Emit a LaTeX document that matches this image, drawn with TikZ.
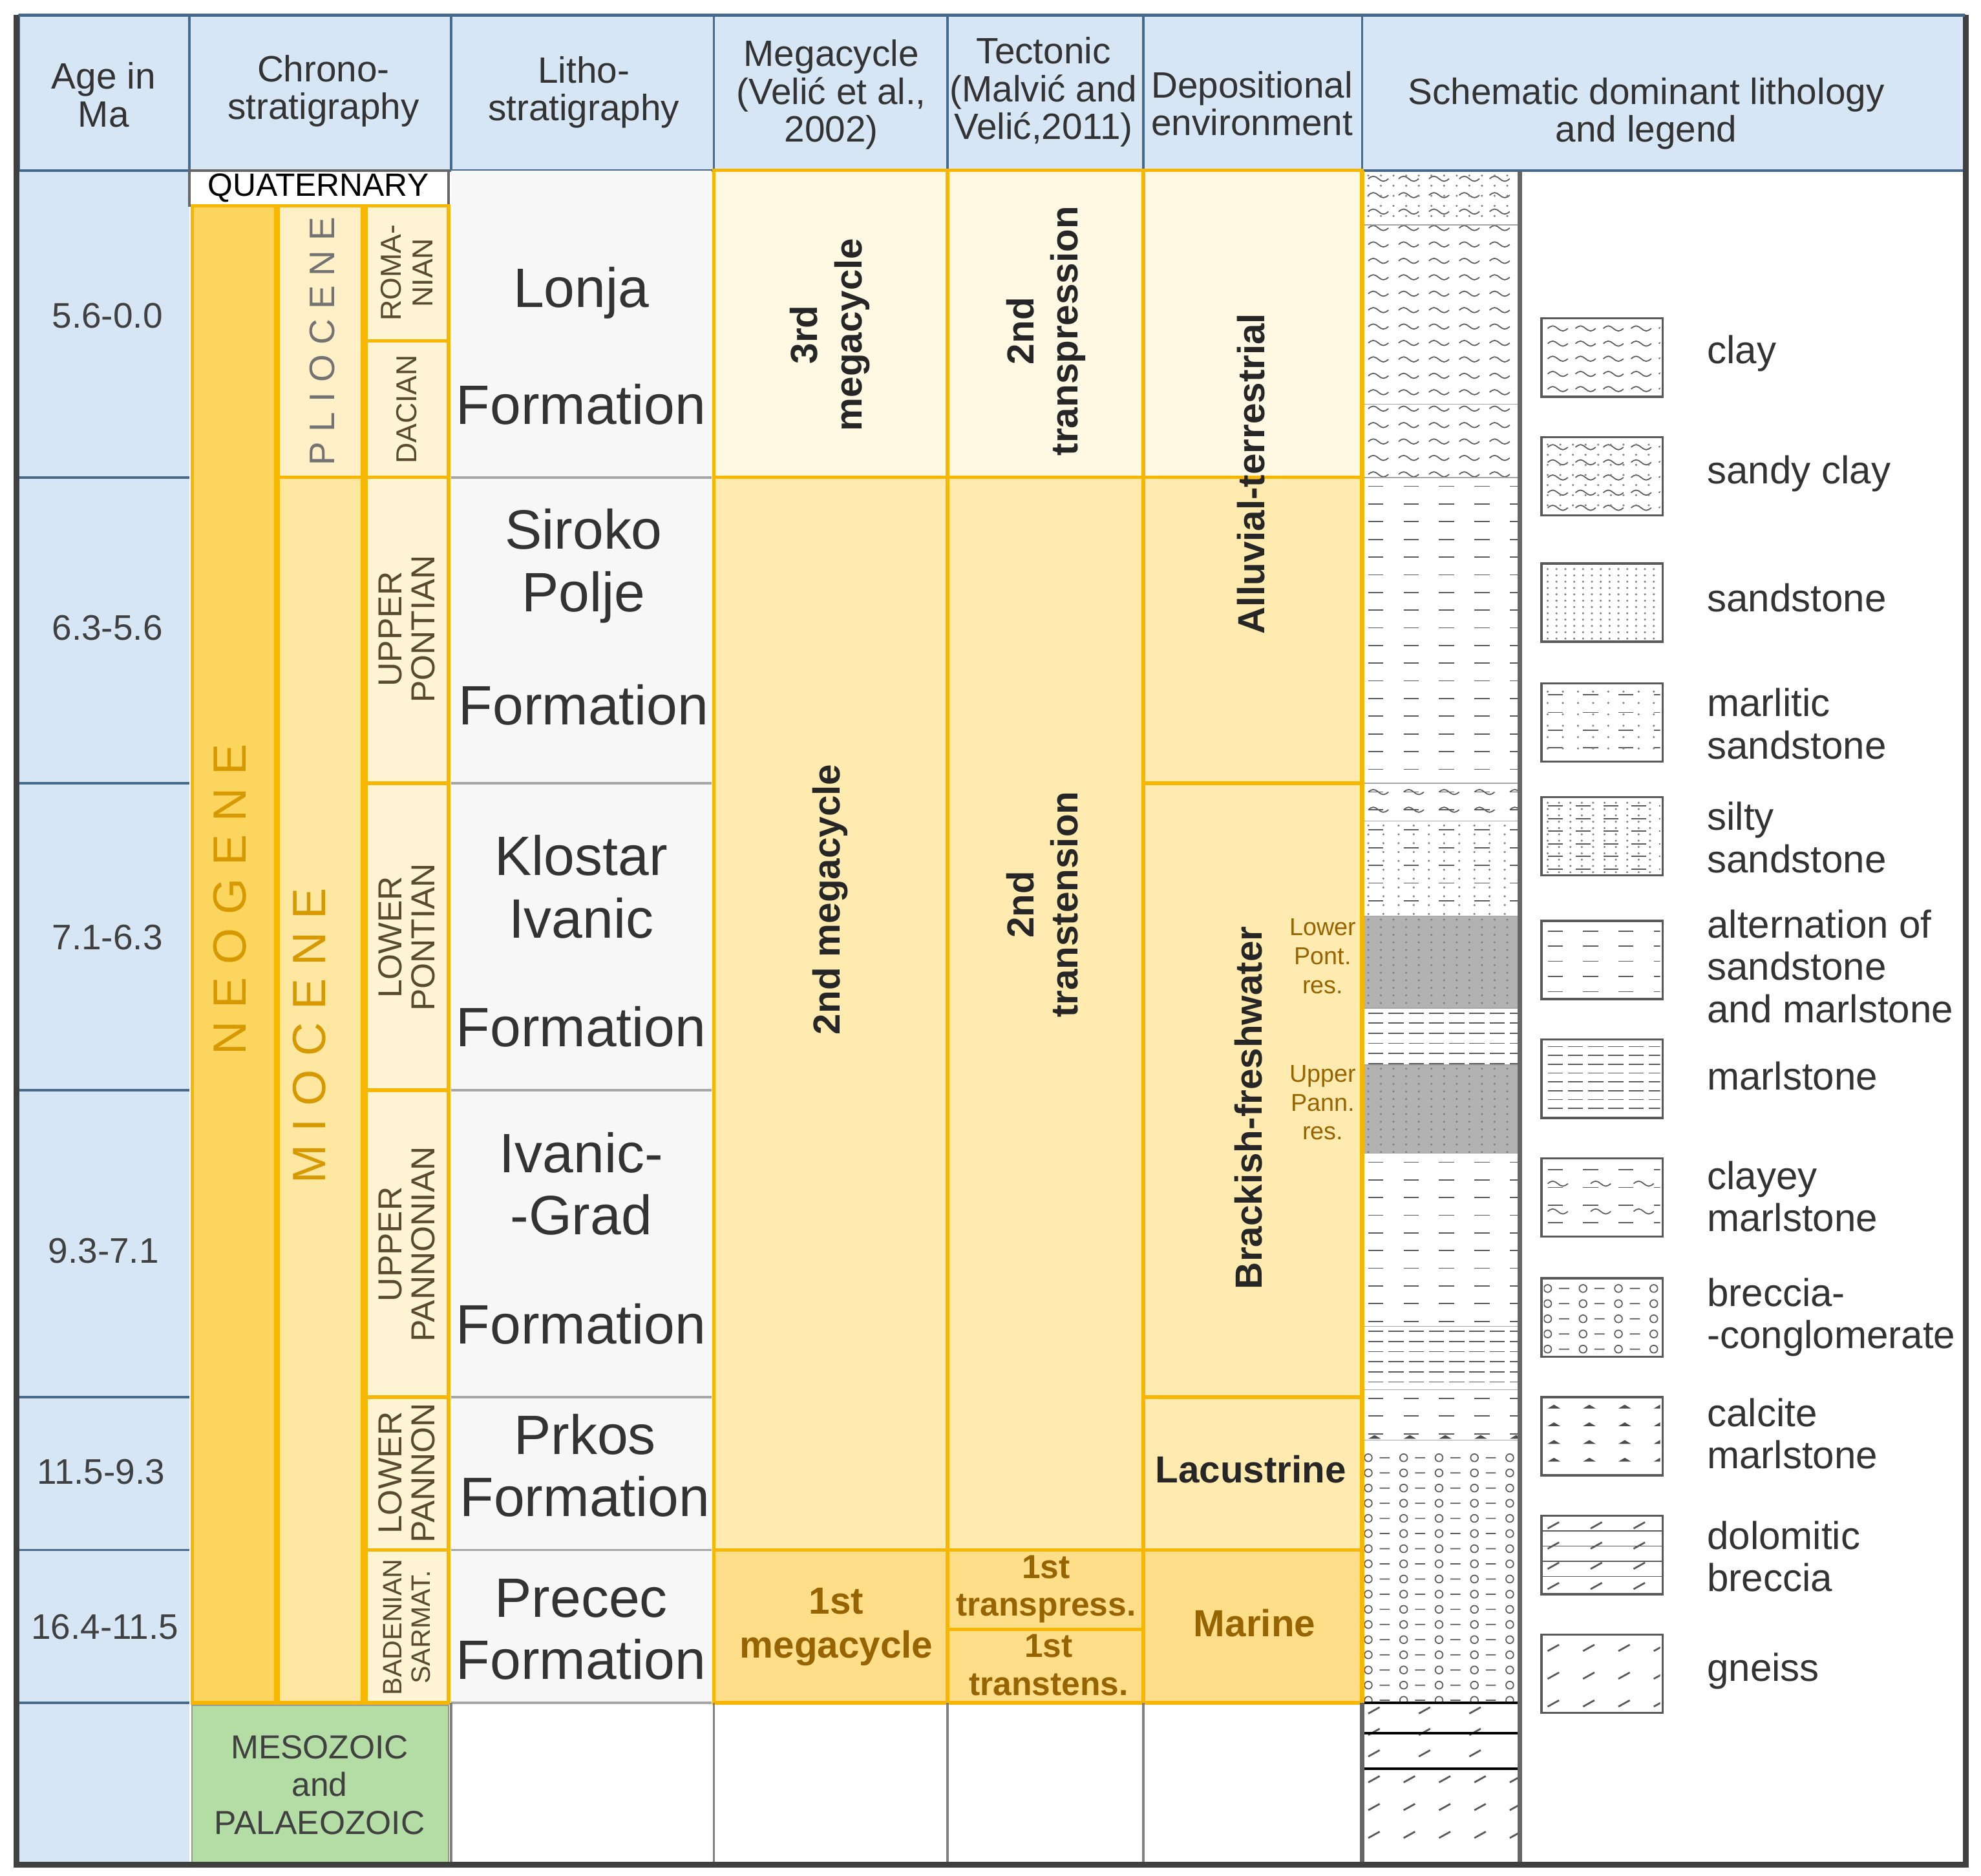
\documentclass[tikz,border=0pt]{standalone}
\usepackage{fontspec}
\setmainfont{Liberation Sans}
\usepackage{tikz}
\usetikzlibrary{positioning,calc}
\definecolor{hdrblue}{RGB}{214,230,245}
\definecolor{lineblue}{RGB}{70,105,140}
\definecolor{ambor}{RGB}{247,183,0}
\definecolor{neofill}{RGB}{252,213,95}
\definecolor{miofill}{RGB}{254,231,160}
\definecolor{pliofill}{RGB}{255,240,200}
\definecolor{stgfill}{RGB}{255,244,212}
\definecolor{cycthree}{RGB}{255,248,227}
\definecolor{cyctwo}{RGB}{255,235,176}
\definecolor{cycone}{RGB}{255,222,138}
\definecolor{mesogreen}{RGB}{180,221,166}
\definecolor{ochre}{RGB}{214,154,0}
\definecolor{stgtext}{RGB}{90,74,48}
\definecolor{browntext}{RGB}{150,100,0}
% filling a box with small repeated marks
\newcommand\lithmarks[7]{%
  \begin{scope}
    \clip (#1,#2) rectangle (#3,#4);
    \pgfmathsetmacro\mya{#2+#6/2}\pgfmathsetmacro\myb{#2+#6*1.5}
    \pgfmathsetmacro\mxa{#1+3}\pgfmathsetmacro\mxb{#1+3+#5}
    \foreach \yy in {\mya,\myb,...,#4}{\foreach \xx in {\mxa,\mxb,...,#3}{#7}}
  \end{scope}}
\newcommand\mkwave{\draw[pat] (\xx,\yy) sin ++(4,-2) cos ++(4,2) sin ++(4,2) cos ++(4,-2);}
\newcommand\mkdash{\draw[pat] (\xx,\yy) -- ++(12,0);}
\newcommand\mkdot{\fill[gray] (\xx,\yy) circle[radius=0.9];}
\newcommand\mkcirc{\draw[pat] (\xx,\yy) circle[radius=3] (\xx+9,\yy) -- ++(8,0);}
\newcommand\mkslash{\draw[pat,thick] (\xx,\yy) -- ++(9,-5);}
\newcommand\mktri{\fill[gray!60!black] (\xx,\yy) -- ++(5,-3) -- ++(5,3) -- cycle;}
\begin{document}
\begin{tikzpicture}[x=0.02cm,y=-0.02cm,
    pat/.style={gray!70!black,line width=0.5pt},
    hdr/.style={font=\fontsize{16.5}{17}\selectfont,align=center,text=black!80},
    agetxt/.style={font=\fontsize{16}{18}\selectfont,text=black!75},
    grid/.style={draw=lineblue,line width=1pt},
    ambox/.style={draw=ambor,line width=1.5pt},
    stage/.style={rotate=90,font=\fontsize{15}{15}\selectfont,align=center,text=stgtext},
    era/.style={rotate=90,font=\fontsize{21}{21}\selectfont,text=ochre},
    formn/.style={font=\fontsize{25}{28}\selectfont,align=center,text=black!80},
    cyc/.style={font=\bfseries\fontsize{17}{20}\selectfont,align=center,text=black!85},
    lbl/.style={font=\fontsize{17.5}{19}\selectfont,align=left,anchor=west,text=black!80},
    legbox/.style={draw=gray!70!black,line width=1pt}
  ]
\useasboundingbox (0,0) rectangle (1568,1485);
\fill[white] (0,0) rectangle (1568,1485);
% Header row
\fill[hdrblue] (15,12) rectangle (1555,135);
\fill[hdrblue] (15,135) rectangle (150,1475);
\foreach \cx in {150,357,565,750,905,1078}
  \draw[grid] (\cx,12) -- (\cx,135);
\draw[grid] (15,12) rectangle (1555,135);
\node[hdr] (hage) at (82,75) {Age in\\Ma};
\node[hdr] (hchr) at (256,72) {Chrono-\\stratigraphy};
\node[hdr] (hlit) at (462,73) {Litho-\\stratigraphy};
\node[hdr] (hmeg) at (658,75) {Megacycle\\(Velić et al.,\\2002)};
\node[hdr] (htec) at (826,73) {Tectonic\\(Malvić and\\Velić,2011)};
\node[hdr] (hdep) at (991,82) {Depositional\\environment};
\node[hdr] (hsch) at (1303,90) {Schematic dominant lithology\\and legend};
% Age column
\foreach \ry in {378,620,863,1106,1227,1348}
  \draw[grid] (15,\ry) -- (150,\ry);
\node[agetxt] (a1) at (85,250) {5.6-0.0};
\node[agetxt] (a2) at (85,497) {6.3-5.6};
\node[agetxt] (a3) at (85,742) {7.1-6.3};
\node[agetxt] (a4) at (82,990) {9.3-7.1};
\node[agetxt] (a5) at (80,1165) {11.5-9.3};
\node[agetxt] (a6) at (83,1288) {16.4-11.5};
% Chronostratigraphy
\node[font=\fontsize{14.5}{14}\selectfont] (quat) at (252,149) {QUATERNARY};
\draw[grid,draw=black!60] (150,135) rectangle (355,163);
\draw[ambox,fill=neofill] (152,163) rectangle (218,1348);
\draw[ambox,fill=pliofill] (220,163) rectangle (287,378);
\draw[ambox,fill=miofill] (220,378) rectangle (287,1348);
\node[era] (neog) at (182,712) {N E O G E N E};
\node[era,text=black!55,font=\fontsize{16}{16}\selectfont] (plio) at (255,270) {P L I O C E N E};
\node[era] (mioc) at (245,820) {M I O C E N E};
\foreach \ya/\yb in {163/270,270/378,378/620,620/863,863/1106,1106/1227,1227/1348}
  \draw[ambox,fill=stgfill] (290,\ya) rectangle (355,\yb);
\node[stage,font=\fontsize{13}{14}\selectfont] (rom) at (322,216) {ROMA-\\NIAN};
\node[stage,font=\fontsize{13}{14}\selectfont] (dac) at (322,324) {DACIAN};
\node[stage] (upo) at (322,498) {UPPER\\PONTIAN};
\node[stage] (lpo) at (322,742) {LOWER\\PONTIAN};
\node[stage] (upa) at (322,985) {UPPER\\PANNONIAN};
\node[stage] (lpa) at (322,1166) {LOWER\\PANNON};
\node[stage,font=\fontsize{12}{13}\selectfont] (bad) at (322,1288) {BADENIAN\\SARMAT.};
\draw[draw=black!40,fill=mesogreen] (152,1350) rectangle (355,1475);
\node[font=\fontsize{15}{17}\selectfont,align=center,text=black!75] (meso) at (253,1413) {MESOZOIC\\and\\PALAEOZOIC};
% Lithostratigraphy
\fill[black!3] (357,135) rectangle (563,1348);
\foreach \ry in {378,620,863,1106,1227,1348}
  \draw[black!35,line width=1pt] (357,\ry) -- (563,\ry);
\node[formn] (lonja) at (460,232) {Lonja};
\node[formn] (f1) at (460,320) {Formation};
\node[formn] (sirok) at (462,448) {Siroko\\Polje};
\node[formn] (f2) at (462,558) {Formation};
\node[formn] (klost) at (460,702) {Klostar\\Ivanic};
\node[formn] (f3) at (460,813) {Formation};
\node[formn] (ivgr) at (460,937) {Ivanic-\\-Grad};
\node[formn] (f4) at (460,1048) {Formation};
\node[formn] (prkos) at (463,1160) {Prkos\\Formation};
\node[formn] (prec) at (460,1290) {Precec\\Formation};
% Megacycles, tectonics, environments
\draw[ambox,fill=cycthree] (565,135) rectangle (750,378);
\draw[ambox,fill=cyctwo] (565,378) rectangle (750,1227);
\draw[ambox,fill=cycone] (565,1227) rectangle (750,1348);
\draw[ambox,fill=cycthree] (750,135) rectangle (905,378);
\draw[ambox,fill=cyctwo] (750,378) rectangle (905,1227);
\draw[ambox,fill=cycone] (750,1227) rectangle (905,1348);
\draw[ambox] (750,1290) -- (905,1290);
\draw[ambox,fill=cycthree] (905,135) rectangle (1078,378);
\draw[ambox,fill=cyctwo] (905,378) rectangle (1078,620);
\draw[ambox,fill=cyctwo] (905,620) rectangle (1078,1106);
\draw[ambox,fill=cyctwo] (905,1106) rectangle (1078,1227);
\draw[ambox,fill=cycone] (905,1227) rectangle (1078,1348);
\node[cyc,rotate=90] (c3) at (657,265) {3rd\\megacycle};
\node[cyc,rotate=90] (c2) at (657,712) {2nd megacycle};
\node[cyc,text=browntext] (c1) at (662,1288) {1st\\megacycle};
\node[cyc,rotate=90] (t2p) at (828,262) {2nd\\transpression};
\node[cyc,rotate=90] (t2t) at (825,716) {2nd\\transtension};
\node[cyc,text=browntext,font=\bfseries\fontsize{15}{17}\selectfont] (t1p) at (828,1258) {1st\\transpress.};
\node[cyc,text=browntext,font=\bfseries\fontsize{15}{17}\selectfont] (t1t) at (830,1318) {1st\\transtens.};
\node[cyc,rotate=90] (alluv) at (990,375) {Alluvial-terrestrial};
\node[cyc,rotate=90] (brack) at (988,877) {Brackish-freshwater};
\node[cyc] (lacus) at (990,1163) {Lacustrine};
\node[cyc,text=browntext] (marin) at (993,1285) {Marine};
\begin{scope}
  \clip (1000,700) rectangle (1077,950);
  \node[font=\fontsize{11}{13}\selectfont,align=center,text=browntext] (lpres) at (1047,757) {Lower\\Pont.\\res.};
  \node[font=\fontsize{11}{13}\selectfont,align=center,text=browntext] (upres) at (1047,873) {Upper\\Pann.\\res.};
\end{scope}
% bottom row lines
\foreach \cx in {357,565,750,905}
  \draw[black!50,line width=1pt] (\cx,1348) -- (\cx,1475);
% Lithology column
\fill[black!30] (1080,725) rectangle (1202,798);
\fill[black!30] (1080,843) rectangle (1202,913);
\lithmarks{1080}{135}{1202}{378}{24}{13}{\mkwave}
\lithmarks{1080}{135}{1202}{178}{10}{8}{\mkdot}
\lithmarks{1080}{378}{1202}{620}{28}{14}{\mkdash}
\lithmarks{1080}{620}{1202}{650}{28}{14}{\mkwave\mkdash}
\lithmarks{1080}{650}{1202}{725}{28}{14}{\mkdash}
\lithmarks{1080}{650}{1202}{725}{12}{7}{\mkdot}
\lithmarks{1080}{725}{1202}{798}{10}{6}{\mkdot}
\lithmarks{1080}{798}{1202}{843}{16}{8}{\mkdash}
\lithmarks{1080}{843}{1202}{913}{10}{6}{\mkdot}
\lithmarks{1080}{913}{1202}{1050}{28}{14}{\mkdash}
\lithmarks{1080}{1050}{1202}{1100}{16}{8}{\mkdash}
\lithmarks{1080}{1100}{1202}{1140}{28}{14}{\mkdash}
\lithmarks{1080}{1132}{1202}{1148}{28}{14}{\mktri}
\lithmarks{1080}{1148}{1202}{1348}{28}{12}{\mkcirc}
\lithmarks{1080}{1348}{1202}{1400}{40}{17}{\mkslash}
\foreach \ry in {1348,1372,1400}
  \draw[black,line width=1.2pt] (1078,\ry) -- (1202,\ry);
\lithmarks{1080}{1400}{1202}{1475}{28}{22}{\mkslash}
\foreach \ry in {178,320,378,620,650,725,798,843,913,1050,1100,1140}
  \draw[black!35] (1078,\ry) -- (1202,\ry);
\draw[ambor,line width=2pt] (1078,135) -- (1078,1348);
\draw[black!60,line width=2pt] (1078,1348) -- (1078,1475);
\draw[black!60,line width=2pt] (1203,135) -- (1203,1475);
% Legend
\foreach \ya in {252,346,446,541,631,729,823,917,1012,1106,1200,1294}
  \draw[legbox] (1220,\ya) rectangle (1316,\ya+62);
\lithmarks{1222}{254}{1314}{312}{22}{12}{\mkwave}
\lithmarks{1222}{348}{1314}{406}{22}{12}{\mkwave}
\lithmarks{1222}{348}{1314}{406}{10}{8}{\mkdot}
\lithmarks{1222}{448}{1314}{506}{7}{5}{\mkdot}
\lithmarks{1222}{543}{1314}{601}{28}{14}{\mkdash}
\lithmarks{1222}{543}{1314}{601}{12}{9}{\mkdot}
\lithmarks{1222}{633}{1314}{691}{22}{10}{\mkdash}
\lithmarks{1222}{633}{1314}{691}{9}{5}{\mkdot}
\lithmarks{1222}{731}{1314}{789}{28}{12}{\mkdash}
\lithmarks{1222}{825}{1314}{883}{16}{7}{\mkdash}
\lithmarks{1222}{919}{1314}{977}{28}{14}{\mkdash}
\lithmarks{1222}{926}{1314}{977}{34}{22}{\mkwave}
\lithmarks{1222}{1014}{1314}{1072}{28}{12}{\mkcirc}
\lithmarks{1222}{1108}{1314}{1166}{28}{14}{\mktri}
\lithmarks{1222}{1202}{1314}{1260}{34}{16}{\mkslash}
\foreach \ry in {1212,1224,1236,1248}
  \draw[pat] (1220,\ry) -- (1316,\ry);
\lithmarks{1222}{1296}{1314}{1354}{28}{22}{\mkslash}
\node[lbl] (lclay) at (1345,280) {clay};
\node[lbl] (lscl) at (1345,375) {sandy clay};
\node[lbl] (lsst) at (1345,473) {sandstone};
\node[lbl] (lmsst) at (1345,573) {marlitic\\sandstone};
\node[lbl] (lsil) at (1345,663) {silty\\sandstone};
\node[lbl] (lalt) at (1345,765) {alternation of\\sandstone\\and marlstone};
\node[lbl] (lmarl) at (1345,852) {marlstone};
\node[lbl] (lcm) at (1345,947) {clayey\\marlstone};
\node[lbl] (lbrc) at (1345,1043) {breccia-\\-conglomerate};
\node[lbl] (lcal) at (1345,1135) {calcite\\marlstone};
\node[lbl] (ldol) at (1345,1232) {dolomitic\\breccia};
\node[lbl] (lgn) at (1345,1323) {gneiss};
% Outer frame
\draw[black!75,line width=2.5pt] (13,12) -- (13,1476) -- (1556,1476) -- (1556,12);
\draw[lineblue,line width=1.5pt] (15,12) -- (1555,12);
\end{tikzpicture}
\end{document}
